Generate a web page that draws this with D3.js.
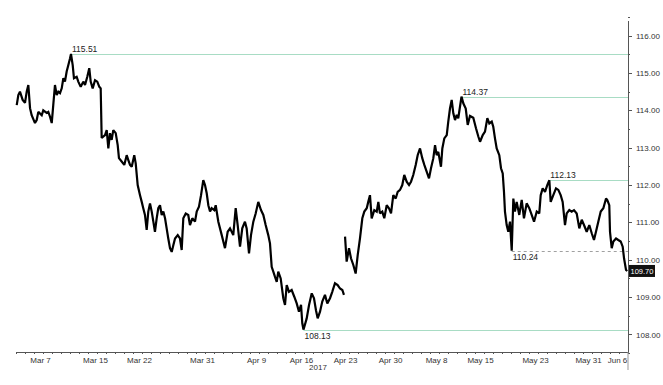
<!DOCTYPE html>
<html>
<head>
<meta charset="utf-8">
<script src="https://cdn.jsdelivr.net/npm/d3@7"></script>
<style>
    body { margin: 0; background: #fff; }
    svg { display: block; font-family: "Liberation Sans Narrow", "Arial Narrow", "Liberation Sans", sans-serif; }
    .axis text { font-size: 8px; fill: #333; }
    .axis line, .axis path { stroke: #555; shape-rendering: crispEdges; }
    .level-label { font-size: 8.5px; fill: #222; }
</style>
</head>
<body>
<div id="chart"></div>
<script>
// USD/JPY, trading-day index (0 = Mar 3) and price; null marks the Apr 24 gap
const usdjpy = [
    [0.08, 114.14], [0.26, 114.41], [0.44, 114.50], [0.74, 114.28], [1.00, 114.20], [1.19, 114.50],
    [1.37, 114.68], [1.56, 114.06], [1.74, 113.87], [2.11, 113.66], [2.30, 113.74], [2.48, 113.96],
    [2.86, 113.87], [3.03, 114.00], [3.41, 113.93], [3.59, 113.96], [3.78, 113.83], [3.97, 113.66],
    [4.14, 114.14], [4.33, 114.68], [4.52, 114.41], [4.70, 114.50], [4.89, 114.46], [5.08, 114.59],
    [5.26, 114.86], [5.44, 114.77], [5.63, 115.04], [5.81, 115.21], [6.00, 115.39], [6.11, 115.51],
    [6.30, 115.21], [6.44, 114.86], [6.74, 114.90], [6.92, 114.77], [7.19, 114.63], [7.48, 114.77],
    [7.67, 114.68], [7.92, 114.90], [8.14, 115.13], [8.30, 114.77], [8.52, 114.59], [8.78, 114.81],
    [9.03, 114.77], [9.26, 114.63], [9.41, 114.59], [9.52, 113.26], [9.89, 113.34], [10.08, 113.47],
    [10.26, 112.98], [10.44, 113.39], [10.63, 113.21], [10.81, 113.47], [11.08, 113.39], [11.30, 113.07],
    [11.44, 112.72], [11.74, 112.63], [12.03, 112.54], [12.30, 112.80], [12.48, 112.67], [12.67, 112.54],
    [12.86, 112.49], [13.14, 112.80], [13.30, 112.58], [13.52, 112.00], [13.78, 111.73], [13.97, 111.55],
    [14.14, 111.38], [14.33, 111.20], [14.52, 110.80], [14.70, 111.29], [14.89, 111.51], [15.08, 111.29],
    [15.26, 111.02], [15.44, 110.75], [15.63, 111.11], [15.81, 111.38], [16.00, 111.46], [16.19, 111.20],
    [16.37, 111.29], [16.56, 111.11], [16.74, 110.84], [16.92, 110.57], [17.11, 110.31], [17.30, 110.21],
    [17.48, 110.39], [17.67, 110.57], [17.97, 110.66], [18.22, 110.57], [18.41, 110.26], [18.59, 111.11],
    [18.86, 111.24], [19.14, 111.20], [19.33, 110.93], [19.59, 111.11], [19.89, 111.02], [20.08, 111.29],
    [20.33, 111.42], [20.56, 111.73], [20.81, 112.13], [21.00, 112.00], [21.19, 111.78], [21.37, 111.46],
    [21.56, 111.29], [21.74, 111.38], [22.03, 111.33], [22.19, 111.46], [22.48, 111.02], [22.86, 110.66],
    [23.22, 110.31], [23.52, 110.75], [23.78, 110.84], [24.14, 110.66], [24.41, 111.38], [24.63, 110.93],
    [24.89, 110.35], [25.14, 110.84], [25.44, 111.02], [25.63, 110.84], [25.89, 110.17], [26.11, 110.66],
    [26.37, 111.02], [26.63, 111.24], [26.92, 111.55], [27.22, 111.33], [27.48, 111.20], [27.74, 110.93],
    [28.03, 110.66], [28.22, 110.44], [28.41, 109.81], [28.59, 109.68], [28.78, 109.54], [28.97, 109.41],
    [29.14, 109.68], [29.41, 109.50], [29.70, 108.97], [29.89, 108.79], [30.08, 109.32], [30.33, 109.14],
    [30.63, 109.19], [30.92, 109.01], [31.19, 108.83], [31.44, 108.61], [31.67, 108.79], [31.81, 108.30],
    [31.94, 108.13], [32.03, 108.20], [32.30, 108.43], [32.56, 108.79], [32.86, 109.10], [33.11, 108.97],
    [33.33, 108.65], [33.52, 108.43], [33.78, 108.61], [34.03, 108.88], [34.33, 109.06], [34.59, 108.83],
    [34.89, 108.97], [35.14, 109.14], [35.44, 109.37], [35.74, 109.32], [36.00, 109.23], [36.26, 109.19],
    [36.44, 109.06], [36.50, null],
    [36.56, 110.62], [36.74, 109.95], [37.00, 110.31], [37.22, 110.04], [37.48, 109.86], [37.74, 109.63],
    [37.97, 110.13], [38.22, 110.57], [38.48, 111.11], [38.70, 111.29], [38.97, 111.38], [39.14, 111.55],
    [39.33, 111.73], [39.52, 111.11], [39.81, 111.33], [40.08, 111.29], [40.26, 111.55], [40.44, 111.24],
    [40.70, 111.29], [40.92, 111.11], [41.19, 111.46], [41.44, 111.38], [41.67, 111.24], [41.92, 111.73],
    [42.19, 111.64], [42.41, 111.82], [42.67, 111.87], [42.92, 112.00], [43.14, 112.27], [43.41, 112.09],
    [43.67, 112.00], [43.89, 112.09], [44.14, 112.27], [44.41, 112.54], [44.63, 112.80], [44.89, 112.98],
    [45.14, 112.72], [45.37, 112.54], [45.63, 112.36], [45.89, 112.18], [46.11, 112.45], [46.37, 112.72],
    [46.56, 113.07], [46.74, 112.80], [46.92, 112.89], [47.22, 112.49], [47.37, 112.98], [47.59, 113.25],
    [47.86, 113.34], [48.03, 113.70], [48.22, 114.05], [48.41, 114.28], [48.59, 113.92], [48.78, 113.74],
    [48.97, 113.88], [49.14, 113.79], [49.50, 114.37], [49.70, 114.19], [49.97, 114.05], [50.19, 113.61],
    [50.44, 113.85], [50.81, 113.80], [51.11, 113.52], [51.37, 113.30], [51.56, 113.16], [51.86, 113.34],
    [52.11, 113.43], [52.37, 113.79], [52.59, 113.65], [52.86, 113.70], [53.03, 113.56], [53.22, 113.25],
    [53.41, 112.98], [53.70, 112.80], [53.89, 112.45], [54.08, 112.31], [54.22, 111.82], [54.33, 111.29],
    [54.52, 110.93], [54.70, 110.75], [54.89, 111.02], [55.08, 110.24], [55.26, 111.64], [55.44, 111.29],
    [55.63, 111.55], [55.92, 111.20], [56.19, 111.60], [56.44, 111.11], [56.74, 111.51], [57.03, 111.38],
    [57.30, 111.20], [57.56, 111.02], [57.86, 111.29], [58.14, 111.24], [58.30, 111.73], [58.52, 111.91],
    [58.78, 111.82], [59.03, 112.00], [59.26, 112.13], [59.41, 111.55], [59.70, 111.73], [60.00, 111.91],
    [60.26, 111.87], [60.52, 111.73], [60.74, 111.55], [61.00, 110.93], [61.19, 111.24], [61.48, 111.33],
    [61.74, 111.29], [62.00, 111.33], [62.30, 111.24], [62.59, 110.84], [62.86, 111.07], [63.11, 110.93],
    [63.41, 110.75], [63.70, 110.93], [63.97, 110.71], [64.22, 110.53], [64.44, 110.75], [64.70, 111.02],
    [64.97, 111.29], [65.26, 111.38], [65.56, 111.64], [65.70, 111.60], [65.92, 111.46], [66.00, 110.75],
    [66.19, 110.31], [66.37, 110.49], [66.67, 110.57], [66.92, 110.53], [67.19, 110.49], [67.41, 110.35],
    [67.56, 110.04], [67.78, 109.73], [67.92, 109.70]
];

// swing highs / lows marked with a horizontal line
const levelDays = [6.11, 49.50, 59.26, 31.94];
const levelValues = [115.51, 114.37, 112.13, 108.13];

// dashed support level
const supportDay = 55.08;
const supportValue = 110.24;

const lastPrice = 109.70;

const dateTickDays = [2.67, 8.78, 13.67, 20.67, 26.67, 31.67, 36.56, 41.56, 46.67, 51.56, 57.67, 63.56, 66.78];
const dateTickLabels = ['Mar 7', 'Mar 15', 'Mar 22', 'Mar 31', 'Apr 9', 'Apr 16', 'Apr 23', 'Apr 30',
    'May 8', 'May 15', 'May 23', 'May 31', 'Jun 6'];
const yearLabel = '2017';

const priceTicks = [108, 109, 110, 111, 112, 113, 114, 115, 116];
const priceMinorTicks = [107.5, 108.5, 109.5, 110.5, 111.5, 112.5, 113.5, 114.5, 115.5, 116.5];

class PriceChart {
    constructor(_config, _data) {
        this.config = {
            parentElement: _config.parentElement,
            containerWidth: _config.containerWidth || 663,
            containerHeight: _config.containerHeight || 385,
            margin: _config.margin || {top: 20, right: 35, bottom: 33, left: 16}
        };
        this.data = _data;
        this.initVis();
        this.renderVis();
    }

    initVis() {
        let vis = this;
        vis.width = vis.config.containerWidth - vis.config.margin.left - vis.config.margin.right;
        vis.height = vis.config.containerHeight - vis.config.margin.top - vis.config.margin.bottom;

        vis.svg = d3.select(vis.config.parentElement)
            .append('svg')
            .attr('width', vis.config.containerWidth)
            .attr('height', vis.config.containerHeight);

        vis.chart = vis.svg.append('g')
            .attr('transform', `translate(${vis.config.margin.left},${vis.config.margin.top})`);

        vis.xScale = d3.scaleLinear().domain([0, 68]).range([0, vis.width]);
        vis.yScale = d3.scaleLinear().domain([107.53, 116.42]).range([vis.height, 0]);

        vis.xAxis = d3.axisBottom(vis.xScale)
            .tickValues(dateTickDays)
            .tickFormat((d, i) => dateTickLabels[i])
            .tickSize(0)
            .tickPadding(5)
            .tickSizeOuter(0);
        vis.xMinorAxis = d3.axisBottom(vis.xScale)
            .tickValues(d3.range(0, 69))
            .tickFormat('')
            .tickSize(2)
            .tickSizeOuter(0);

        vis.yAxis = d3.axisRight(vis.yScale)
            .tickValues(priceTicks)
            .tickFormat(d3.format('.2f'))
            .tickSize(4)
            .tickPadding(4)
            .tickSizeOuter(0);
        vis.yMinorAxis = d3.axisRight(vis.yScale)
            .tickValues(priceMinorTicks)
            .tickFormat('')
            .tickSize(2)
            .tickSizeOuter(0);

        vis.xAxisG = vis.chart.append('g').attr('class', 'axis x-axis').attr('transform', `translate(0,${vis.height})`);
        vis.xMinorG = vis.chart.append('g').attr('class', 'axis x-minor').attr('transform', `translate(0,${vis.height})`);
        vis.yAxisG = vis.chart.append('g').attr('class', 'axis y-axis').attr('transform', `translate(${vis.width},0)`);
        vis.yMinorG = vis.chart.append('g').attr('class', 'axis y-minor').attr('transform', `translate(${vis.width},0)`);

        vis.levelsG = vis.chart.append('g');
        vis.lineG = vis.chart.append('g');
    }

    renderVis() {
        let vis = this;

        vis.xAxisG.call(vis.xAxis);
        vis.xMinorG.call(vis.xMinorAxis).call(g => g.select('.domain').remove());
        vis.yAxisG.call(vis.yAxis);
        vis.yMinorG.call(vis.yMinorAxis).call(g => g.select('.domain').remove());

        // right axis runs down past the date axis
        vis.chart.append('line')
            .attr('x1', vis.width).attr('x2', vis.width)
            .attr('y1', vis.height).attr('y2', vis.height + 18)
            .attr('stroke', '#999');

        vis.chart.append('text')
            .attr('class', 'axis')
            .attr('x', vis.width / 2 - 4)
            .attr('y', vis.height + 18)
            .attr('text-anchor', 'middle')
            .style('font-size', '8px')
            .style('fill', '#333')
            .text(yearLabel);

        const low = d3.min(levelValues);
        const levels = levelDays.map((d, i) => ({day: d, value: levelValues[i]}));

        vis.levelsG.selectAll('.level')
            .data(levels)
            .join('line')
            .attr('class', 'level')
            .attr('x1', d => vis.xScale(d.day))
            .attr('x2', vis.width)
            .attr('y1', d => Math.round(vis.yScale(d.value)) + 0.5)
            .attr('y2', d => Math.round(vis.yScale(d.value)) + 0.5)
            .attr('stroke', '#a8dcc4')
            .attr('stroke-width', 1);

        vis.levelsG.selectAll('.level-label')
            .data(levels)
            .join('text')
            .attr('class', 'level-label')
            .attr('x', d => vis.xScale(d.day) + 1)
            .attr('y', d => vis.yScale(d.value) + (d.value === low ? 9 : -2))
            .text(d => d.value.toFixed(2));

        vis.levelsG.append('line')
            .attr('x1', vis.xScale(supportDay))
            .attr('x2', vis.width)
            .attr('y1', Math.round(vis.yScale(supportValue)) + 0.5)
            .attr('y2', Math.round(vis.yScale(supportValue)) + 0.5)
            .attr('stroke', '#a0a0a0')
            .attr('stroke-dasharray', '3,3');

        vis.levelsG.append('text')
            .attr('class', 'level-label')
            .attr('x', vis.xScale(supportDay) + 1)
            .attr('y', vis.yScale(supportValue) + 9)
            .text(supportValue.toFixed(2));

        const line = d3.line()
            .defined(d => d[1] !== null)
            .x(d => vis.xScale(d[0]))
            .y(d => vis.yScale(d[1]));

        vis.lineG.append('path')
            .datum(vis.data)
            .attr('fill', 'none')
            .attr('stroke', '#000')
            .attr('stroke-width', 2.2)
            .attr('stroke-linejoin', 'miter')
            .attr('stroke-miterlimit', 2)
            .attr('d', line);

        // last price tag
        const ly = vis.yScale(lastPrice);
        vis.chart.append('rect')
            .attr('x', vis.width + 1)
            .attr('y', ly - 6)
            .attr('width', 26)
            .attr('height', 12)
            .attr('fill', '#111');
        vis.chart.append('text')
            .attr('x', vis.width + 14)
            .attr('y', ly + 3)
            .attr('text-anchor', 'middle')
            .style('font-size', '7.5px')
            .style('fill', '#fff')
            .text(lastPrice.toFixed(2));
    }
}

new PriceChart({parentElement: '#chart'}, usdjpy);
</script>
</body>
</html>
